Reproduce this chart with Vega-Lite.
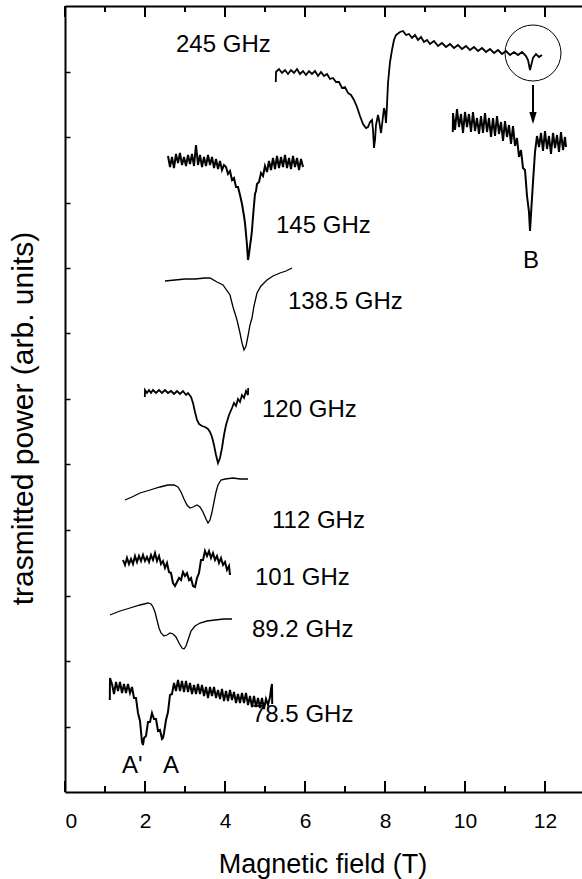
{
"$schema":"https://vega.github.io/schema/vega-lite/v6.json",
"width":517,"height":786,
"autosize":{"type":"none"},
"padding":{"left":65,"top":6,"right":0,"bottom":87},
"background":"white",
"config":{"view":{"stroke":null},"axis":{"grid":false,"domainColor":"black","tickColor":"black","labelColor":"black","titleColor":"black","labelFont":"Liberation Sans","titleFont":"Liberation Sans","domainWidth":2,"titleFontWeight":"normal"}},
"datasets":{
"traces":[
{"s":"245","x":5.27,"y":710},{"s":"245","x":5.275,"y":720},{"s":"245","x":5.35,"y":723},{"s":"245","x":5.425,"y":719},{"s":"245","x":5.5,"y":722},{"s":"245","x":5.575,"y":718},{"s":"245","x":5.65,"y":722},{"s":"245","x":5.725,"y":719},{"s":"245","x":5.8,"y":723},{"s":"245","x":5.875,"y":718},{"s":"245","x":5.95,"y":721},{"s":"245","x":6.025,"y":717},{"s":"245","x":6.1,"y":721},{"s":"245","x":6.175,"y":718},{"s":"245","x":6.25,"y":721},{"s":"245","x":6.325,"y":716},{"s":"245","x":6.4,"y":720},{"s":"245","x":6.475,"y":716},{"s":"245","x":6.55,"y":718},{"s":"245","x":6.625,"y":713},{"s":"245","x":6.7,"y":714},{"s":"245","x":6.775,"y":710},{"s":"245","x":6.85,"y":710},{"s":"245","x":6.925,"y":704},{"s":"245","x":7.0,"y":705},{"s":"245","x":7.075,"y":699},{"s":"245","x":7.15,"y":697},{"s":"245","x":7.225,"y":692},{"s":"245","x":7.3,"y":685},{"s":"245","x":7.375,"y":676},{"s":"245","x":7.45,"y":668},{"s":"245","x":7.525,"y":664},{"s":"245","x":7.575,"y":665},{"s":"245","x":7.625,"y":670},{"s":"245","x":7.675,"y":672},{"s":"245","x":7.7,"y":662},{"s":"245","x":7.725,"y":644},{"s":"245","x":7.75,"y":652},{"s":"245","x":7.775,"y":667},{"s":"245","x":7.825,"y":677},{"s":"245","x":7.85,"y":672},{"s":"245","x":7.9,"y":659},{"s":"245","x":7.925,"y":667},{"s":"245","x":7.975,"y":684},{"s":"245","x":8.0,"y":680},{"s":"245","x":8.025,"y":669},{"s":"245","x":8.05,"y":687},{"s":"245","x":8.075,"y":709},{"s":"245","x":8.125,"y":730},{"s":"245","x":8.175,"y":742},{"s":"245","x":8.225,"y":752},{"s":"245","x":8.275,"y":757},{"s":"245","x":8.375,"y":760},{"s":"245","x":8.45,"y":761},{"s":"245","x":8.525,"y":757},{"s":"245","x":8.6,"y":758},{"s":"245","x":8.675,"y":754},{"s":"245","x":8.75,"y":757},{"s":"245","x":8.825,"y":752},{"s":"245","x":8.9,"y":755},{"s":"245","x":8.975,"y":750},{"s":"245","x":9.05,"y":752},{"s":"245","x":9.125,"y":748},{"s":"245","x":9.225,"y":751},{"s":"245","x":9.325,"y":746},{"s":"245","x":9.425,"y":749},{"s":"245","x":9.525,"y":745},{"s":"245","x":9.625,"y":748},{"s":"245","x":9.725,"y":744},{"s":"245","x":9.825,"y":747},{"s":"245","x":9.925,"y":743},{"s":"245","x":10.025,"y":746},{"s":"245","x":10.125,"y":742},{"s":"245","x":10.225,"y":745},{"s":"245","x":10.325,"y":741},{"s":"245","x":10.425,"y":744},{"s":"245","x":10.525,"y":740},{"s":"245","x":10.625,"y":743},{"s":"245","x":10.725,"y":739},{"s":"245","x":10.825,"y":742},{"s":"245","x":10.925,"y":738},{"s":"245","x":11.025,"y":741},{"s":"245","x":11.125,"y":737},{"s":"245","x":11.225,"y":740},{"s":"245","x":11.325,"y":737},{"s":"245","x":11.425,"y":740},{"s":"245","x":11.525,"y":736},{"s":"245","x":11.575,"y":732},{"s":"245","x":11.625,"y":722},{"s":"245","x":11.65,"y":726},{"s":"245","x":11.7,"y":734},{"s":"245","x":11.775,"y":738},{"s":"245","x":11.85,"y":735},{"s":"245","x":11.925,"y":737},
{"s":"145","x":2.575,"y":636},{"s":"145","x":2.625,"y":625},{"s":"145","x":2.675,"y":635},{"s":"145","x":2.725,"y":624},{"s":"145","x":2.775,"y":638},{"s":"145","x":2.825,"y":629},{"s":"145","x":2.875,"y":639},{"s":"145","x":2.925,"y":627},{"s":"145","x":2.975,"y":635},{"s":"145","x":3.025,"y":626},{"s":"145","x":3.075,"y":637},{"s":"145","x":3.125,"y":628},{"s":"145","x":3.175,"y":638},{"s":"145","x":3.225,"y":626},{"s":"145","x":3.275,"y":647},{"s":"145","x":3.325,"y":627},{"s":"145","x":3.375,"y":637},{"s":"145","x":3.425,"y":625},{"s":"145","x":3.475,"y":635},{"s":"145","x":3.525,"y":626},{"s":"145","x":3.575,"y":637},{"s":"145","x":3.625,"y":627},{"s":"145","x":3.675,"y":635},{"s":"145","x":3.725,"y":624},{"s":"145","x":3.775,"y":633},{"s":"145","x":3.825,"y":623},{"s":"145","x":3.875,"y":631},{"s":"145","x":3.925,"y":622},{"s":"145","x":3.975,"y":627},{"s":"145","x":4.025,"y":625},{"s":"145","x":4.075,"y":618},{"s":"145","x":4.125,"y":621},{"s":"145","x":4.175,"y":612},{"s":"145","x":4.225,"y":614},{"s":"145","x":4.275,"y":605},{"s":"145","x":4.325,"y":605},{"s":"145","x":4.375,"y":597},{"s":"145","x":4.425,"y":588},{"s":"145","x":4.475,"y":576},{"s":"145","x":4.5,"y":569},{"s":"145","x":4.525,"y":558},{"s":"145","x":4.55,"y":547},{"s":"145","x":4.575,"y":532},{"s":"145","x":4.6,"y":538},{"s":"145","x":4.625,"y":546},{"s":"145","x":4.65,"y":553},{"s":"145","x":4.675,"y":562},{"s":"145","x":4.7,"y":575},{"s":"145","x":4.725,"y":587},{"s":"145","x":4.75,"y":598},{"s":"145","x":4.775,"y":601},{"s":"145","x":4.8,"y":608},{"s":"145","x":4.85,"y":610},{"s":"145","x":4.9,"y":619},{"s":"145","x":4.95,"y":616},{"s":"145","x":5.0,"y":626},{"s":"145","x":5.05,"y":620},{"s":"145","x":5.1,"y":631},{"s":"145","x":5.15,"y":622},{"s":"145","x":5.2,"y":634},{"s":"145","x":5.25,"y":623},{"s":"145","x":5.3,"y":636},{"s":"145","x":5.35,"y":624},{"s":"145","x":5.4,"y":635},{"s":"145","x":5.45,"y":625},{"s":"145","x":5.5,"y":637},{"s":"145","x":5.55,"y":624},{"s":"145","x":5.6,"y":634},{"s":"145","x":5.65,"y":623},{"s":"145","x":5.7,"y":636},{"s":"145","x":5.75,"y":625},{"s":"145","x":5.8,"y":634},{"s":"145","x":5.85,"y":622},{"s":"145","x":5.9,"y":633},{"s":"145","x":5.95,"y":625},
{"s":"138.5","x":2.5,"y":511},{"s":"138.5","x":2.75,"y":512},{"s":"138.5","x":3.0,"y":513},{"s":"138.5","x":3.25,"y":513},{"s":"138.5","x":3.5,"y":514},{"s":"138.5","x":3.625,"y":514},{"s":"138.5","x":3.8,"y":510},{"s":"138.5","x":3.95,"y":507},{"s":"138.5","x":4.125,"y":497},{"s":"138.5","x":4.2,"y":485},{"s":"138.5","x":4.3,"y":472},{"s":"138.5","x":4.375,"y":459},{"s":"138.5","x":4.425,"y":449},{"s":"138.5","x":4.475,"y":442},{"s":"138.5","x":4.525,"y":446},{"s":"138.5","x":4.575,"y":456},{"s":"138.5","x":4.625,"y":467},{"s":"138.5","x":4.675,"y":474},{"s":"138.5","x":4.725,"y":486},{"s":"138.5","x":4.8,"y":499},{"s":"138.5","x":4.9,"y":506},{"s":"138.5","x":5.05,"y":512},{"s":"138.5","x":5.2,"y":516},{"s":"138.5","x":5.375,"y":519},{"s":"138.5","x":5.525,"y":521},{"s":"138.5","x":5.675,"y":524},
{"s":"120","x":1.995,"y":395},{"s":"120","x":2.0,"y":402},{"s":"120","x":2.05,"y":399},{"s":"120","x":2.1,"y":402},{"s":"120","x":2.15,"y":399},{"s":"120","x":2.2,"y":402},{"s":"120","x":2.275,"y":399},{"s":"120","x":2.35,"y":402},{"s":"120","x":2.425,"y":399},{"s":"120","x":2.5,"y":402},{"s":"120","x":2.575,"y":399},{"s":"120","x":2.65,"y":401},{"s":"120","x":2.725,"y":398},{"s":"120","x":2.8,"y":401},{"s":"120","x":2.875,"y":398},{"s":"120","x":2.95,"y":401},{"s":"120","x":3.025,"y":397},{"s":"120","x":3.075,"y":399},{"s":"120","x":3.15,"y":395},{"s":"120","x":3.2,"y":389},{"s":"120","x":3.25,"y":380},{"s":"120","x":3.3,"y":372},{"s":"120","x":3.35,"y":368},{"s":"120","x":3.425,"y":366},{"s":"120","x":3.5,"y":365},{"s":"120","x":3.575,"y":363},{"s":"120","x":3.625,"y":360},{"s":"120","x":3.675,"y":355},{"s":"120","x":3.725,"y":347},{"s":"120","x":3.775,"y":337},{"s":"120","x":3.825,"y":329},{"s":"120","x":3.875,"y":334},{"s":"120","x":3.925,"y":344},{"s":"120","x":3.975,"y":357},{"s":"120","x":4.025,"y":367},{"s":"120","x":4.1,"y":377},{"s":"120","x":4.175,"y":384},{"s":"120","x":4.225,"y":389},{"s":"120","x":4.275,"y":386},{"s":"120","x":4.325,"y":393},{"s":"120","x":4.375,"y":390},{"s":"120","x":4.425,"y":397},{"s":"120","x":4.475,"y":394},{"s":"120","x":4.525,"y":401},{"s":"120","x":4.575,"y":397},{"s":"120","x":4.58,"y":404},
{"s":"112","x":1.5,"y":292},{"s":"112","x":1.675,"y":295},{"s":"112","x":1.875,"y":299},{"s":"112","x":2.125,"y":302},{"s":"112","x":2.375,"y":305},{"s":"112","x":2.575,"y":307},{"s":"112","x":2.725,"y":307},{"s":"112","x":2.825,"y":305},{"s":"112","x":2.9,"y":300},{"s":"112","x":2.975,"y":293},{"s":"112","x":3.05,"y":287},{"s":"112","x":3.125,"y":284},{"s":"112","x":3.2,"y":285},{"s":"112","x":3.3,"y":287},{"s":"112","x":3.375,"y":285},{"s":"112","x":3.45,"y":280},{"s":"112","x":3.525,"y":273},{"s":"112","x":3.575,"y":269},{"s":"112","x":3.625,"y":272},{"s":"112","x":3.675,"y":280},{"s":"112","x":3.725,"y":290},{"s":"112","x":3.775,"y":300},{"s":"112","x":3.825,"y":307},{"s":"112","x":3.9,"y":312},{"s":"112","x":4.0,"y":313},{"s":"112","x":4.2,"y":314},{"s":"112","x":4.375,"y":313},{"s":"112","x":4.575,"y":313},
{"s":"101","x":1.45,"y":232},{"s":"101","x":1.5,"y":227},{"s":"101","x":1.55,"y":234},{"s":"101","x":1.6,"y":228},{"s":"101","x":1.65,"y":233},{"s":"101","x":1.7,"y":228},{"s":"101","x":1.75,"y":236},{"s":"101","x":1.8,"y":230},{"s":"101","x":1.85,"y":236},{"s":"101","x":1.9,"y":231},{"s":"101","x":1.95,"y":237},{"s":"101","x":2.0,"y":231},{"s":"101","x":2.05,"y":235},{"s":"101","x":2.1,"y":230},{"s":"101","x":2.15,"y":237},{"s":"101","x":2.2,"y":232},{"s":"101","x":2.25,"y":239},{"s":"101","x":2.3,"y":231},{"s":"101","x":2.35,"y":236},{"s":"101","x":2.4,"y":228},{"s":"101","x":2.45,"y":231},{"s":"101","x":2.5,"y":224},{"s":"101","x":2.55,"y":229},{"s":"101","x":2.6,"y":220},{"s":"101","x":2.65,"y":219},{"s":"101","x":2.7,"y":209},{"s":"101","x":2.75,"y":206},{"s":"101","x":2.8,"y":210},{"s":"101","x":2.85,"y":214},{"s":"101","x":2.9,"y":212},{"s":"101","x":2.95,"y":220},{"s":"101","x":3.0,"y":216},{"s":"101","x":3.05,"y":219},{"s":"101","x":3.1,"y":212},{"s":"101","x":3.15,"y":214},{"s":"101","x":3.2,"y":206},{"s":"101","x":3.25,"y":205},{"s":"101","x":3.3,"y":214},{"s":"101","x":3.35,"y":219},{"s":"101","x":3.4,"y":232},{"s":"101","x":3.45,"y":232},{"s":"101","x":3.5,"y":241},{"s":"101","x":3.55,"y":236},{"s":"101","x":3.6,"y":241},{"s":"101","x":3.65,"y":234},{"s":"101","x":3.7,"y":239},{"s":"101","x":3.75,"y":232},{"s":"101","x":3.8,"y":236},{"s":"101","x":3.85,"y":229},{"s":"101","x":3.9,"y":234},{"s":"101","x":3.95,"y":227},{"s":"101","x":4.0,"y":230},{"s":"101","x":4.05,"y":222},{"s":"101","x":4.1,"y":226},{"s":"101","x":4.125,"y":217},
{"s":"89.2","x":1.125,"y":177},{"s":"89.2","x":1.375,"y":181},{"s":"89.2","x":1.625,"y":184},{"s":"89.2","x":1.875,"y":187},{"s":"89.2","x":2.075,"y":189},{"s":"89.2","x":2.15,"y":188},{"s":"89.2","x":2.2,"y":185},{"s":"89.2","x":2.25,"y":180},{"s":"89.2","x":2.3,"y":172},{"s":"89.2","x":2.35,"y":164},{"s":"89.2","x":2.4,"y":159},{"s":"89.2","x":2.475,"y":156},{"s":"89.2","x":2.55,"y":157},{"s":"89.2","x":2.625,"y":159},{"s":"89.2","x":2.7,"y":158},{"s":"89.2","x":2.775,"y":155},{"s":"89.2","x":2.85,"y":149},{"s":"89.2","x":2.925,"y":144},{"s":"89.2","x":2.975,"y":143},{"s":"89.2","x":3.025,"y":146},{"s":"89.2","x":3.075,"y":152},{"s":"89.2","x":3.15,"y":161},{"s":"89.2","x":3.25,"y":166},{"s":"89.2","x":3.375,"y":169},{"s":"89.2","x":3.55,"y":171},{"s":"89.2","x":3.75,"y":172},{"s":"89.2","x":3.975,"y":173},{"s":"89.2","x":4.175,"y":173},
{"s":"78.5","x":1.12,"y":92},{"s":"78.5","x":1.125,"y":114},{"s":"78.5","x":1.175,"y":108},{"s":"78.5","x":1.225,"y":98},{"s":"78.5","x":1.275,"y":110},{"s":"78.5","x":1.325,"y":101},{"s":"78.5","x":1.375,"y":110},{"s":"78.5","x":1.425,"y":99},{"s":"78.5","x":1.475,"y":108},{"s":"78.5","x":1.525,"y":99},{"s":"78.5","x":1.575,"y":108},{"s":"78.5","x":1.625,"y":99},{"s":"78.5","x":1.675,"y":105},{"s":"78.5","x":1.725,"y":94},{"s":"78.5","x":1.775,"y":94},{"s":"78.5","x":1.825,"y":79},{"s":"78.5","x":1.875,"y":71},{"s":"78.5","x":1.925,"y":50},{"s":"78.5","x":1.95,"y":47},{"s":"78.5","x":1.975,"y":54},{"s":"78.5","x":2.025,"y":56},{"s":"78.5","x":2.075,"y":70},{"s":"78.5","x":2.125,"y":70},{"s":"78.5","x":2.175,"y":79},{"s":"78.5","x":2.225,"y":73},{"s":"78.5","x":2.275,"y":73},{"s":"78.5","x":2.325,"y":61},{"s":"78.5","x":2.375,"y":62},{"s":"78.5","x":2.425,"y":53},{"s":"78.5","x":2.45,"y":54},{"s":"78.5","x":2.475,"y":59},{"s":"78.5","x":2.525,"y":72},{"s":"78.5","x":2.575,"y":80},{"s":"78.5","x":2.625,"y":97},{"s":"78.5","x":2.675,"y":98},{"s":"78.5","x":2.725,"y":109},{"s":"78.5","x":2.775,"y":101},{"s":"78.5","x":2.825,"y":112},{"s":"78.5","x":2.875,"y":101},{"s":"78.5","x":2.925,"y":111},{"s":"78.5","x":2.975,"y":100},{"s":"78.5","x":3.025,"y":111},{"s":"78.5","x":3.075,"y":100},{"s":"78.5","x":3.125,"y":109},{"s":"78.5","x":3.175,"y":98},{"s":"78.5","x":3.225,"y":107},{"s":"78.5","x":3.275,"y":98},{"s":"78.5","x":3.325,"y":108},{"s":"78.5","x":3.375,"y":98},{"s":"78.5","x":3.425,"y":107},{"s":"78.5","x":3.475,"y":96},{"s":"78.5","x":3.525,"y":105},{"s":"78.5","x":3.575,"y":94},{"s":"78.5","x":3.625,"y":105},{"s":"78.5","x":3.675,"y":96},{"s":"78.5","x":3.725,"y":105},{"s":"78.5","x":3.775,"y":94},{"s":"78.5","x":3.825,"y":102},{"s":"78.5","x":3.875,"y":93},{"s":"78.5","x":3.925,"y":103},{"s":"78.5","x":3.975,"y":91},{"s":"78.5","x":4.025,"y":101},{"s":"78.5","x":4.075,"y":91},{"s":"78.5","x":4.125,"y":102},{"s":"78.5","x":4.175,"y":92},{"s":"78.5","x":4.225,"y":100},{"s":"78.5","x":4.275,"y":89},{"s":"78.5","x":4.325,"y":98},{"s":"78.5","x":4.375,"y":89},{"s":"78.5","x":4.425,"y":99},{"s":"78.5","x":4.475,"y":89},{"s":"78.5","x":4.525,"y":99},{"s":"78.5","x":4.575,"y":87},{"s":"78.5","x":4.625,"y":96},{"s":"78.5","x":4.675,"y":85},{"s":"78.5","x":4.725,"y":96},{"s":"78.5","x":4.775,"y":85},{"s":"78.5","x":4.825,"y":94},{"s":"78.5","x":4.875,"y":84},{"s":"78.5","x":4.925,"y":94},{"s":"78.5","x":4.975,"y":83},{"s":"78.5","x":5.025,"y":93},{"s":"78.5","x":5.075,"y":87},{"s":"78.5","x":5.125,"y":95},{"s":"78.5","x":5.15,"y":103},{"s":"78.5","x":5.175,"y":108},{"s":"78.5","x":5.18,"y":88},
{"s":"B","x":9.695,"y":660},{"s":"B","x":9.7,"y":679},{"s":"B","x":9.75,"y":662},{"s":"B","x":9.8,"y":683},{"s":"B","x":9.85,"y":665},{"s":"B","x":9.9,"y":678},{"s":"B","x":9.95,"y":659},{"s":"B","x":10.0,"y":680},{"s":"B","x":10.05,"y":665},{"s":"B","x":10.1,"y":678},{"s":"B","x":10.15,"y":660},{"s":"B","x":10.2,"y":680},{"s":"B","x":10.25,"y":661},{"s":"B","x":10.3,"y":674},{"s":"B","x":10.35,"y":658},{"s":"B","x":10.4,"y":676},{"s":"B","x":10.45,"y":659},{"s":"B","x":10.5,"y":679},{"s":"B","x":10.55,"y":660},{"s":"B","x":10.6,"y":674},{"s":"B","x":10.65,"y":655},{"s":"B","x":10.7,"y":674},{"s":"B","x":10.75,"y":656},{"s":"B","x":10.8,"y":676},{"s":"B","x":10.85,"y":658},{"s":"B","x":10.9,"y":670},{"s":"B","x":10.95,"y":651},{"s":"B","x":11.0,"y":671},{"s":"B","x":11.05,"y":655},{"s":"B","x":11.1,"y":667},{"s":"B","x":11.15,"y":648},{"s":"B","x":11.2,"y":666},{"s":"B","x":11.25,"y":646},{"s":"B","x":11.3,"y":654},{"s":"B","x":11.35,"y":635},{"s":"B","x":11.4,"y":642},{"s":"B","x":11.45,"y":624},{"s":"B","x":11.5,"y":622},{"s":"B","x":11.55,"y":596},{"s":"B","x":11.6,"y":580},{"s":"B","x":11.625,"y":561},{"s":"B","x":11.65,"y":578},{"s":"B","x":11.7,"y":610},{"s":"B","x":11.75,"y":640},{"s":"B","x":11.8,"y":656},{"s":"B","x":11.85,"y":645},{"s":"B","x":11.9,"y":659},{"s":"B","x":11.95,"y":641},{"s":"B","x":12.0,"y":661},{"s":"B","x":12.05,"y":643},{"s":"B","x":12.1,"y":656},{"s":"B","x":12.15,"y":638},{"s":"B","x":12.2,"y":659},{"s":"B","x":12.25,"y":644},{"s":"B","x":12.3,"y":657},{"s":"B","x":12.35,"y":640},{"s":"B","x":12.4,"y":660},{"s":"B","x":12.45,"y":642},{"s":"B","x":12.5,"y":655},{"s":"B","x":12.525,"y":645}
],
"labels":[
{"t":"245 GHz","x":2.775,"y":747},{"t":"145 GHz","x":5.275,"y":566},{"t":"138.5 GHz","x":5.575,"y":490},{"t":"120 GHz","x":4.925,"y":382},{"t":"112 GHz","x":5.175,"y":271},{"t":"101 GHz","x":4.75,"y":214},{"t":"89.2 GHz","x":4.675,"y":162},{"t":"78.5 GHz","x":4.675,"y":77},{"t":"A'","x":1.425,"y":26},{"t":"A","x":2.45,"y":26},{"t":"B","x":11.45,"y":531}
],
"ticks":[
{"v":0,"k":"major"},{"v":1,"k":"minor"},{"v":2,"k":"major"},{"v":3,"k":"minor"},{"v":4,"k":"major"},{"v":5,"k":"minor"},{"v":6,"k":"major"},{"v":7,"k":"minor"},{"v":8,"k":"major"},{"v":9,"k":"minor"},{"v":10,"k":"major"},{"v":11,"k":"minor"},{"v":12,"k":"major"}
],
"circle":[{"x":11.7,"y":739}],
"arrow":[{"x":11.7,"y":707,"y2":680}],
"head":[{"x":11.7,"y":674}]
},
"resolve":{"axis":{"x":"independent","y":"independent"}},
"layer":[
{"data":{"name":"traces"},"transform":[{"filter":{"field":"s","oneOf":["138.5","112","89.2"]}}],
 "mark":{"type":"line","color":"black","strokeWidth":1.3},
 "encoding":{
  "x":{"field":"x","type":"quantitative","scale":{"domain":[0,12.925],"nice":false,"zero":false},
   "axis":{"orient":"bottom","values":[0,2,4,6,8,10,12],"ticks":false,"labelPadding":35,"labelBaseline":"alphabetic","labelFontSize":21,"title":"Magnetic field (T)","titleFontSize":27,"titleX":257.5,"titleY":80,"titleAlign":"center","titleBaseline":"alphabetic"}},
  "y":{"field":"y","type":"quantitative","scale":{"domain":[0,786],"nice":false,"zero":false},
   "axis":{"orient":"left","values":[65.5,131,196.5,262,327.5,393,458.5,524,589.5,655,720.5],"tickSize":-5,"tickColor":"black","tickWidth":1.5,"labels":false,"title":"trasmitted power (arb. units)","titleFontSize":30,"titleAngle":-90,"titleX":-33,"titleY":412,"titleAlign":"center","titleBaseline":"alphabetic"}},
  "detail":{"field":"s"}}},
{"data":{"name":"traces"},"transform":[{"filter":{"field":"s","oneOf":["145","101","78.5","B"]}}],
 "mark":{"type":"line","color":"black","strokeWidth":2},
 "encoding":{
  "x":{"field":"x","type":"quantitative","scale":{"domain":[0,12.925],"nice":false,"zero":false},
   "axis":{"orient":"top","ticks":false,"labels":false,"title":null}},
  "y":{"field":"y","type":"quantitative","scale":{"domain":[0,786],"nice":false,"zero":false},"axis":null},
  "detail":{"field":"s"}}},
{"data":{"name":"traces"},"transform":[{"filter":{"field":"s","oneOf":["245","120"]}}],
 "mark":{"type":"line","color":"black","strokeWidth":1.8},
 "encoding":{
  "x":{"field":"x","type":"quantitative","scale":{"domain":[0,12.925],"nice":false,"zero":false},"axis":null},
  "y":{"field":"y","type":"quantitative","scale":{"domain":[0,786],"nice":false,"zero":false},"axis":null},
  "detail":{"field":"s"}}},
{"data":{"name":"ticks"},"transform":[{"filter":"datum.k === 'major'"}],
 "mark":{"type":"rule","color":"black","strokeWidth":2},
 "encoding":{
  "x":{"field":"v","type":"quantitative","scale":{"domain":[0,12.925],"nice":false,"zero":false},"axis":null},
  "y":{"datum":0,"type":"quantitative","scale":{"domain":[0,786],"nice":false,"zero":false},"axis":null},
  "y2":{"datum":11}}},
{"data":{"name":"ticks"},"transform":[{"filter":"datum.k === 'minor'"}],
 "mark":{"type":"rule","color":"black","strokeWidth":2},
 "encoding":{
  "x":{"field":"v","type":"quantitative","scale":{"domain":[0,12.925],"nice":false,"zero":false},"axis":null},
  "y":{"datum":0,"type":"quantitative","scale":{"domain":[0,786],"nice":false,"zero":false},"axis":null},
  "y2":{"datum":6}}},
{"data":{"name":"ticks"},"transform":[{"filter":"datum.k === 'major'"}],
 "mark":{"type":"rule","color":"black","strokeWidth":2},
 "encoding":{
  "x":{"field":"v","type":"quantitative","scale":{"domain":[0,12.925],"nice":false,"zero":false},"axis":null},
  "y":{"datum":786,"type":"quantitative","scale":{"domain":[0,786],"nice":false,"zero":false},"axis":null},
  "y2":{"datum":775}}},
{"data":{"name":"ticks"},"transform":[{"filter":"datum.k === 'minor'"}],
 "mark":{"type":"rule","color":"black","strokeWidth":2},
 "encoding":{
  "x":{"field":"v","type":"quantitative","scale":{"domain":[0,12.925],"nice":false,"zero":false},"axis":null},
  "y":{"datum":786,"type":"quantitative","scale":{"domain":[0,786],"nice":false,"zero":false},"axis":null},
  "y2":{"datum":780}}},
{"data":{"name":"labels"},
 "mark":{"type":"text","align":"left","baseline":"middle","font":"Liberation Sans","fontSize":24,"color":"black"},
 "encoding":{
  "x":{"field":"x","type":"quantitative","scale":{"domain":[0,12.925],"nice":false,"zero":false},"axis":null},
  "y":{"field":"y","type":"quantitative","scale":{"domain":[0,786],"nice":false,"zero":false},"axis":null},
  "text":{"field":"t"}}},
{"data":{"name":"circle"},
 "mark":{"type":"point","shape":"circle","filled":false,"stroke":"black","strokeWidth":1,"size":3136,"opacity":1},
 "encoding":{
  "x":{"field":"x","type":"quantitative","scale":{"domain":[0,12.925],"nice":false,"zero":false},"axis":null},
  "y":{"field":"y","type":"quantitative","scale":{"domain":[0,786],"nice":false,"zero":false},"axis":null}}},
{"data":{"name":"arrow"},
 "mark":{"type":"rule","color":"black","strokeWidth":2},
 "encoding":{
  "x":{"field":"x","type":"quantitative","scale":{"domain":[0,12.925],"nice":false,"zero":false},"axis":null},
  "y":{"field":"y","type":"quantitative","scale":{"domain":[0,786],"nice":false,"zero":false},"axis":null},
  "y2":{"field":"y2"}}},
{"data":{"name":"head"},
 "mark":{"type":"point","shape":"M-0.6,-1L0.6,-1L0,1Z","filled":true,"color":"black","size":150,"opacity":1},
 "encoding":{
  "x":{"field":"x","type":"quantitative","scale":{"domain":[0,12.925],"nice":false,"zero":false},"axis":null},
  "y":{"field":"y","type":"quantitative","scale":{"domain":[0,786],"nice":false,"zero":false},"axis":null}}}
]
}
